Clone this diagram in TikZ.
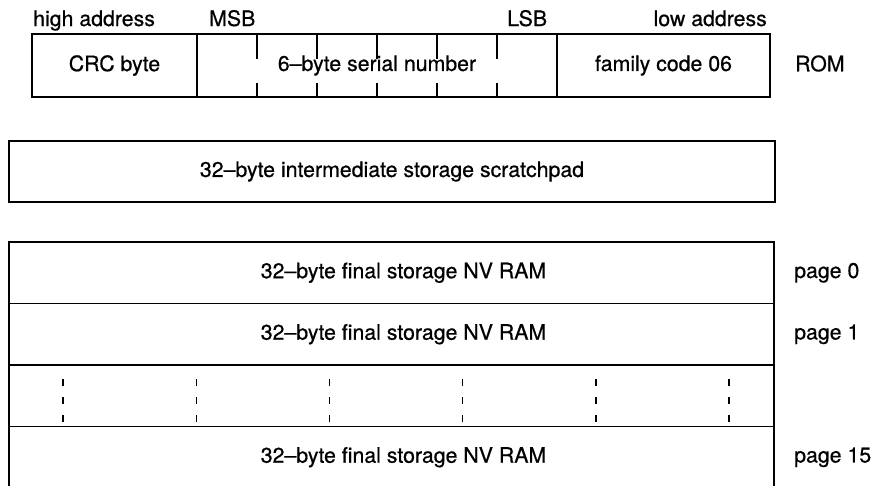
\documentclass[tikz,border=0pt]{standalone}
\usepackage{fontspec}
\setmainfont{TeX Gyre Heros}
\newfontface\memface{TeX Gyre Heros}[FakeBold=0.6, Ligatures=TeX]
\usetikzlibrary{positioning}
\newcommand{\memfont}{\memface\fontsize{21.3}{25}\selectfont}
\tikzset{
    cell/.style = {
      draw, line width=1.8pt, inner sep=0, outer sep=0,
      minimum height=63pt, font=\memfont,
    },
    rom cell/.style = {cell, anchor=north west},
    row/.style = {
      cell, minimum width=765pt, minimum height=61.5pt, anchor=north west,
    },
    tick/.style = {line width=1.4pt},
    gap mark/.style = {line width=1.4pt, dash pattern=on 7pt off 11pt},
    caption/.style = {font=\memfont, inner sep=0, anchor=base west},
    page label/.style = {font=\memfont, inner sep=0},
}
\newcommand{\pagetext}{\hspace*{24pt}32--byte final storage NV RAM}

\begin{document}
\begin{tikzpicture}[x=1pt, y=-1pt]
    \useasboundingbox (0,0) rectangle (877,485);

    %% The ROM: CRC, serial number and family code
    \node [rom cell, minimum width=165pt] (crc) at (32,34) {CRC byte};
    \node [rom cell, minimum width=360pt, right=0pt of crc]
          (serial) {6--byte serial number};
    \node [rom cell, minimum width=213pt, right=0pt of serial]
          (family) {family code 06};

    %% Byte ticks of the serial number
    \foreach \i in {1,...,5}{%
      \draw [tick] ([xshift=60pt*\i] serial.north west) -- ++(0,25);
      \draw [tick] ([xshift=60pt*\i] serial.south west) -- ++(0,-14);
    }

    %% Captions round the ROM
    \node [caption] (high) at (33,26) {high address};
    \node [caption] (msb) at (209,26) {MSB};
    \node [caption] (lsb) at (507,26) {LSB};
    \node [caption, anchor=base east] (low) at (767,26) {low address};
    \node [page label, right=25pt of family, yshift=2pt] (rom) {ROM};

    %% Scratchpad
    \node [row, minimum width=766pt, minimum height=61pt] (scratch) at (9,141)
          {32--byte intermediate storage scratchpad};

    %% The NV RAM pages
    \node [row] (page0) at (9,242) {\pagetext};
    \node [row, below=0pt of page0] (page1) {\pagetext};
    \node [row, below=0pt of page1] (gap) {};
    \node [row, below=0pt of gap] (page15) {\pagetext};

    \foreach \x in {0,...,5}{%
      \draw [gap mark] ([xshift=54pt+133.2pt*\x, yshift=-14pt] gap.north west)
        -- ++(0,43);
    }

    % Page numbers
    \node [page label, right=20pt of page0, anchor=west] (p0) {page 0};
    \node [page label, right=20pt of page1, anchor=west] (p1) {page 1};
    \node [page label, right=20pt of page15, anchor=west] (p15) {page 15};
\end{tikzpicture}
\end{document}
